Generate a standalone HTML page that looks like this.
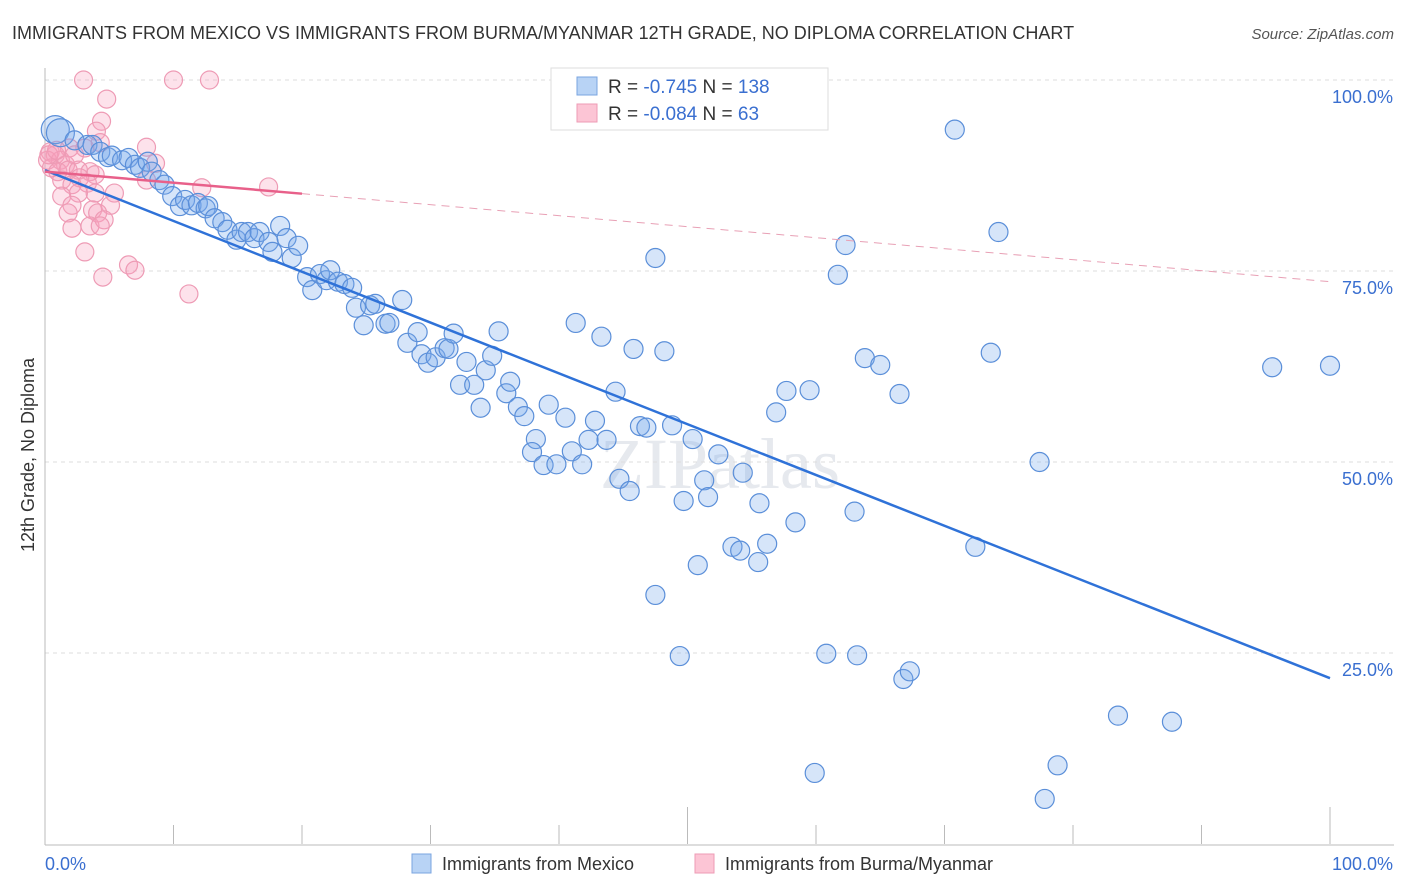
<!DOCTYPE html>
<html><head><meta charset="utf-8"><style>
body{margin:0;background:#fff;font-family:"Liberation Sans",sans-serif;}
svg{display:block}
</style></head><body>
<svg id="c" width="1406" height="892" xmlns="http://www.w3.org/2000/svg">
<text x="12" y="39" font-size="18" fill="#333">IMMIGRANTS FROM MEXICO VS IMMIGRANTS FROM BURMA/MYANMAR 12TH GRADE, NO DIPLOMA CORRELATION CHART</text>
<text x="1394" y="39" font-size="15" fill="#555" font-style="italic" text-anchor="end">Source: ZipAtlas.com</text>
<text x="720" y="488" font-size="72" fill="#e6e9ee" text-anchor="middle" font-family="Liberation Serif,serif">ZIPatlas</text>
<text transform="translate(34,455) rotate(-90)" font-size="18" fill="#333" text-anchor="middle">12th Grade, No Diploma</text>
<g id="grid"></g><g id="pts"></g><g id="lines"></g>
<g>
<rect x="551" y="68" width="277" height="62" fill="#fff" stroke="#ddd"/>
<rect x="577" y="77" width="20" height="18" fill="#b8d3f5" stroke="#7aa5e0"/>
<rect x="577" y="104" width="20" height="18" fill="#fcc5d5" stroke="#ee9bb5"/>
<text x="608" y="93" font-size="19" fill="#333">R = <tspan fill="#3a6fd0">-0.745</tspan>   N = <tspan fill="#3a6fd0">138</tspan></text>
<text x="608" y="120" font-size="19" fill="#333">R = <tspan fill="#3a6fd0">-0.084</tspan>   N = <tspan fill="#3a6fd0"> 63</tspan></text>
</g>
<g>
<rect x="412" y="854" width="19" height="19" fill="#b8d3f5" stroke="#7aa5e0"/>
<text x="442" y="870" font-size="18" fill="#333">Immigrants from Mexico</text>
<rect x="695" y="854" width="19" height="19" fill="#fcc5d5" stroke="#ee9bb5"/>
<text x="725" y="870" font-size="18" fill="#333">Immigrants from Burma/Myanmar</text>
</g>
</svg>
<script>
const yTicks=[100,75,50,25];
const yTickLabels=["100.0%","75.0%","50.0%","25.0%"];
const xLabels=["0.0%","100.0%"];
const mexX=[0.8,1.2,2.3,3.3,3.7,4.3,4.9,5.2,6.0,6.5,7.0,7.4,8.0,8.3,8.9,9.3,9.9,10.5,10.9,11.4,11.9,12.5,12.7,13.2,13.8,14.2,14.9,15.3,15.8,16.3,16.7,17.4,17.7,18.3,18.8,19.2,19.7,20.4,20.8,21.4,21.9,22.2,22.8,23.3,23.9,24.2,24.8,25.3,25.7,26.5,26.8,27.8,28.2,29.0,29.3,29.8,30.4,31.1,31.4,31.8,32.3,32.8,33.4,33.9,34.3,34.8,35.3,35.9,36.2,36.8,37.3,38.2,37.9,38.8,39.2,39.8,40.5,41.0,41.8,42.3,42.8,43.7,41.3,43.3,44.4,44.7,45.5,45.8,46.3,46.8,47.5,47.5,48.2,48.8,49.4,49.7,50.4,50.8,51.3,51.6,52.4,53.5,54.1,54.3,55.5,55.6,56.2,56.9,57.7,58.4,59.5,59.9,60.8,61.7,62.3,63.0,63.2,63.8,65.0,66.5,66.8,67.3,70.8,72.4,73.6,74.2,77.4,77.8,78.8,83.5,87.7,95.5,100];
const mexY=[93.5,93.1,92.1,91.5,91.5,90.6,89.9,90.1,89.5,89.8,88.9,88.5,89.3,88.0,86.9,86.3,84.8,83.5,84.3,83.6,83.9,83.2,83.5,81.9,81.4,80.4,79.1,80.1,80.1,79.3,80.1,78.8,77.5,80.9,79.3,76.7,78.3,74.2,72.5,74.6,73.8,75.1,73.6,73.3,72.8,70.2,67.9,70.5,70.7,68.1,68.2,71.2,65.6,67.0,64.1,63.0,63.7,64.9,64.8,66.8,60.1,63.1,60.1,57.1,62.0,63.9,67.1,59.0,60.5,57.2,56.0,53.0,51.3,49.6,57.5,49.7,55.8,51.4,49.7,52.9,55.4,52.9,68.2,66.4,59.2,47.8,46.2,64.8,54.7,54.5,76.7,32.6,64.5,54.8,24.6,44.9,53.0,36.5,47.6,45.4,51.0,38.9,38.4,48.6,36.9,44.6,39.3,56.5,59.3,42.1,59.4,9.3,24.9,74.5,78.4,43.5,24.7,63.6,62.7,58.9,21.6,22.6,93.5,38.9,64.3,80.1,50.0,5.9,10.3,16.8,16.0,62.4,62.6];
const burX=[3.0,10.0,12.8,4.8,4.4,4.0,4.3,7.9,8.6,3.1,1.9,0.4,0.8,0.2,1.2,1.6,0.5,1.0,1.8,2.6,3.5,3.9,1.3,2.7,2.1,3.3,7.9,12.2,17.4,5.4,3.9,2.6,1.3,2.1,3.7,5.1,1.8,4.1,3.5,4.6,2.1,4.3,3.1,6.5,7.0,4.5,11.2,0.3,0.9,2.3];
const burY=[100,100,100,97.5,94.6,93.3,91.8,91.2,89.1,91.1,91.1,90.6,90.2,89.5,89.5,88.9,88.5,88.0,88.2,88.2,88.0,87.6,86.9,87.2,86.3,86.5,86.9,85.9,86.0,85.2,85.2,85.2,84.8,83.6,83.0,83.6,82.6,82.6,80.9,81.7,80.6,80.9,77.5,75.8,75.1,74.2,72.0,90.2,90.8,90.2];
const mexTrend=[88.2,21.7];
const burTrend=[88.0,73.6];
const X0=45,X1=1330,Y100=80,Y0=844;
const sx=v=>X0+(X1-X0)*v/100, sy=v=>Y0-(Y0-Y100)*v/100;
const NS="http://www.w3.org/2000/svg";
function mk(p,t,a){const e=document.createElementNS(NS,t);for(const k in a)e.setAttribute(k,a[k]);p.appendChild(e);return e;}
const g=document.getElementById('grid');
yTicks.forEach((t,i)=>{
 const l=mk(g,'line',{x1:X0,x2:1394,y1:sy(t),y2:sy(t),stroke:'#ddd','stroke-dasharray':'4,4'});
 
 
 const tx=mk(g,'text',{x:1393,y:sy(t)+23,'font-size':18,fill:'#3a6fd0','text-anchor':'end'});
 tx.textContent=yTickLabels[i];
 
 
});
const ax=mk(g,'line',{x1:X0,x2:X0,y1:68,y2:Y0+1,stroke:'#bbb'});


const bx=mk(g,'line',{x1:X0,x2:1394,y1:Y0+1,y2:Y0+1,stroke:'#bbb'});


for(let i=0;i<=10;i++){
 const tk=mk(g,'line',{x1:sx(i*10),x2:sx(i*10),y1:(i%5==0)?807:825,y2:Y0,stroke:'#bbb'});
 
 
}
xLabels.forEach((s,i)=>{
 const t=mk(g,'text',{x:i?1393:45,y:870,'font-size':18,fill:'#3a6fd0','text-anchor':i?'end':'start'});
 t.textContent=s;
 
 
});
const P=document.getElementById('pts');
burX.forEach((x,i)=>{
 const c=mk(P,'circle',{cx:sx(x),cy:sy(burY[i]),r:9,fill:'rgba(248,160,190,0.3)',stroke:'#ee9bb5','stroke-width':1.2});
 
 
});
mexX.forEach((x,i)=>{
 const c=mk(P,'circle',{cx:sx(x),cy:sy(mexY[i]),r:i<2?14:9.5,fill:'rgba(120,170,235,0.3)',stroke:'#5b8fd9','stroke-width':1.2});
 
 
});
const L=document.getElementById('lines');
const m=mk(L,'line',{x1:sx(0),y1:sy(mexTrend[0]),x2:sx(100),y2:sy(mexTrend[1]),stroke:'#2f72d8','stroke-width':2.5});


const by=v=>burTrend[0]+(burTrend[1]-burTrend[0])*v/100;
const b1=mk(L,'line',{x1:sx(0),y1:sy(by(0)),x2:sx(20),y2:sy(by(20)),stroke:'#e8608a','stroke-width':2.5});


const b2=mk(L,'line',{x1:sx(20),y1:sy(by(20)),x2:sx(100),y2:sy(by(100)),stroke:'#e8a0b5','stroke-width':1,'stroke-dasharray':'8,6'});


</script>
</body></html>
